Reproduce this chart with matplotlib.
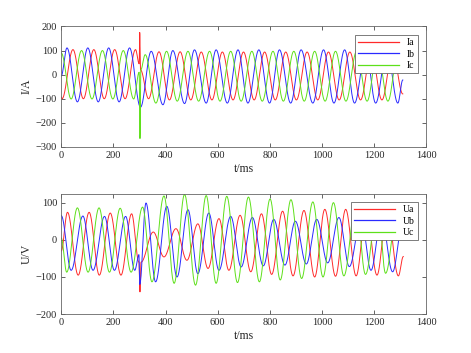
import numpy as np
import matplotlib; matplotlib.use('Agg')
import matplotlib.pyplot as plt

plt.rcParams['font.family'] = ['Liberation Serif', 'DejaVu Serif']

# extrema of each waveform (time in ms, value)
ia_t = [0, 3, 45, 85, 125, 165, 205, 245, 285, 299, 301, 304, 335, 375, 415, 456, 497, 537, 578, 618, 659, 699,
        740, 780, 821, 861, 902, 943, 984, 1025, 1066, 1107, 1148, 1189, 1230, 1271, 1310]
ia_v = [-92, -100, 104, -100, 104, -100, 104, -100, 104, 45, 175, 20, -100, 95, -105, 95, -105, 94, -105, 94, -105, 94,
        -105, 94, -105, 94, -105, 94, -105, 94, -105, 94, -105, 94, -105, 95, -80]
ib_t = [0, 22, 62, 102, 142, 182, 222, 262, 304, 345, 390, 428, 473, 511, 556, 594, 637, 678, 716, 758, 799, 837,
        880, 920, 965, 1006, 1046, 1087, 1125, 1168, 1206, 1249, 1291, 1310]
ib_v = [-5, 111, -113, 111, -113, 111, -113, 111, -135, 97, -125, 100, -120, 103, -118, 103, -118, 103, -118, 103, -118, 103,
        -118, 103, -118, 103, -118, 103, -118, 103, -118, 103, -118, -22]
ic_t = [0, 38, 78, 118, 158, 198, 238, 278, 299, 302, 305, 322, 363, 404, 445, 486, 527, 569, 609, 650, 690, 731,
        771, 812, 852, 892, 932, 972, 1012, 1052, 1092, 1133, 1173, 1213, 1253, 1292, 1310]
ic_v = [90, -101, 100, -101, 100, -101, 100, -101, 10, -265, 20, 83, -118, 97, -110, 97, -110, 97, -110, 97, -110, 97,
        -110, 97, -110, 97, -110, 97, -110, 97, -110, 97, -110, 97, -110, 97, 60]

ua_t = [0, 24, 65, 107, 146, 188, 229, 270, 298, 302, 306, 353, 394, 440, 482, 524, 563, 605, 643, 686, 727, 768,
        807, 849, 889, 931, 972, 1011, 1052, 1091, 1131, 1170, 1211, 1250, 1293, 1312]
ua_v = [-30, 74, -95, 74, -95, 72, -95, 70, -60, -140, -60, 21, -46, 30, -55, 43, -77, 57, -82, 66, -86, 70,
        -93, 77, -97, 79, -100, 82, -98, 82, -97, 78, -95, 80, -97, -45]
ub_t = [0, 38, 83, 122, 166, 204, 247, 282, 298, 301, 325, 362, 405, 444, 486, 524, 566, 605, 650, 690, 733, 775,
        815, 858, 898, 940, 980, 1022, 1065, 1105, 1150, 1188, 1228, 1271, 1310]
ub_v = [65, -82, 64, -82, 63, -82, 63, -82, -40, -120, 99, -113, 90, -100, 81, -91, 72, -82, 63, -73, 60, -70,
        55, -68, 50, -65, 55, -62, 60, -72, 58, -82, 61, -86, 50]
uc_t = [0, 21, 62, 103, 145, 185, 226, 268, 312, 348, 394, 433, 473, 515, 556, 594, 635, 676, 718, 760, 801, 840,
        881, 922, 965, 1004, 1044, 1084, 1130, 1167, 1213, 1244, 1290, 1310]
uc_v = [5, -87, 86, -87, 86, -87, 85, -87, 88, -113, 118, -117, 122, -122, 119, -117, 117, -115, 115, -113, 110, -108,
        108, -104, 102, -100, 100, -97, 95, -93, 92, -90, 88, 40]

COLORS = ['#ff2a2a', '#2a2aff', '#5ee01a']


def wave(te, ve):
    # smooth half-cosine between consecutive extrema
    xs, ys = [], []
    for k in range(len(te) - 1):
        s = np.linspace(0, 1, max(int((te[k+1] - te[k]) * 2), 2), endpoint=False)
        xs.append(te[k] + s * (te[k+1] - te[k]))
        ys.append(ve[k] + (ve[k+1] - ve[k]) * (1 - np.cos(np.pi * s)) / 2)
    xs.append([te[-1]]); ys.append([ve[-1]])
    return np.concatenate(xs), np.concatenate(ys)


def style(ax, ylim, yticks, ylabel):
    ax.set_xlim(0, 1400); ax.set_ylim(*ylim)
    ax.set_xticks(range(0, 1401, 200)); ax.set_yticks(yticks)
    ax.tick_params(direction='in', length=3, width=0.5, labelsize=7.5, colors='#262626',
                   top=True, right=True, pad=3)
    for sp in ax.spines.values():
        sp.set_color('#666666'); sp.set_linewidth(0.6)
    ax.set_xlabel('t/ms', fontsize=8.5, color='#262626', labelpad=2)
    ax.set_ylabel(ylabel, fontsize=8.5, color='#262626', labelpad=2)
    leg = ax.legend(loc='upper right', fontsize=7, handlelength=4.2, handletextpad=0.8,
                    borderaxespad=0.9, fancybox=False, framealpha=1, labelspacing=0.25,
                    borderpad=0.3)
    leg.get_frame().set_edgecolor('#666666'); leg.get_frame().set_linewidth(0.6)
    for h in leg.legend_handles:
        h.set_linewidth(0.9)


fig = plt.figure(figsize=(4.71, 3.53), dpi=100)
ax1 = fig.add_axes([0.13, 0.5838, 0.775, 0.3412])
ax2 = fig.add_axes([0.13, 0.11, 0.775, 0.3412])

for (te, ve), c, lab in zip([(ia_t, ia_v), (ib_t, ib_v), (ic_t, ic_v)], COLORS, ['Ia', 'Ib', 'Ic']):
    x, y = wave(te, ve)
    ax1.plot(x, y, color=c, lw=0.7, label=lab)
style(ax1, (-300, 200), range(-300, 201, 100), 'I/A')

for (te, ve), c, lab in zip([(ua_t, ua_v), (ub_t, ub_v), (uc_t, uc_v)], COLORS, ['Ua', 'Ub', 'Uc']):
    x, y = wave(te, ve)
    ax2.plot(x, y, color=c, lw=0.7, label=lab)
style(ax2, (-200, 124), range(-200, 101, 100), 'U/V')

fig.savefig('out.png', dpi=100)
